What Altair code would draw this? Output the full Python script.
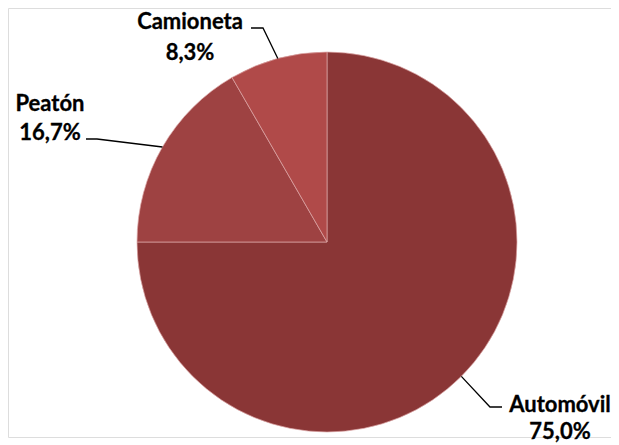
import math
import altair as alt
import pandas as pd

# ---- data ----
categories = ["Automóvil", "Peatón", "Camioneta"]
counts = [9, 2, 1]
colors = ["#8A3636", "#9E4242", "#B04A49"]

# ---- layout (page pixels) ----
W, H = 603, 429
CX, CY, R = 327, 242, 190
label_pos = {  # x centre, baseline of name line, baseline of percentage line
    "Automóvil": (560, 412, 439),
    "Peatón": (50, 111, 140),
    "Camioneta": (190, 29, 60),
}
leader_pts = {  # elbow, end
    "Automóvil": [(490, 407), (502, 407)],
    "Peatón": [(97, 139), (86, 139)],
    "Camioneta": [(263, 28), (251, 28)],
}

total = sum(counts)
pcts = [c / total * 100 for c in counts]
pct_txt = [f"{p:.1f}".replace(".", ",") + "%" for p in pcts]

pie_df = pd.DataFrame({"cat": categories, "val": counts, "idx": range(len(categories))})

# labels
lab_rows = []
for cat, p in zip(categories, pct_txt):
    x, b1, b2 = label_pos[cat]
    lab_rows.append({"x": x, "y": b1, "t": cat})
    lab_rows.append({"x": x, "y": b2, "t": p})
lab_df = pd.DataFrame(lab_rows)

# leader lines start on slice mid-angle
line_rows = []
cum = 0
for cat, c in zip(categories, counts):
    mid = (cum + c / 2) / total * 2 * math.pi
    cum += c
    sx = CX + R * math.sin(mid)
    sy = CY - R * math.cos(mid)
    pts = [(sx, sy)] + leader_pts[cat]
    for i, (px, py) in enumerate(pts):
        line_rows.append({"g": cat, "o": i, "x": px, "y": py})
line_df = pd.DataFrame(line_rows)

xs = alt.Scale(domain=[8, 8 + W])
ys = alt.Scale(domain=[8, 8 + H], reverse=True)

pie = alt.Chart(pie_df).mark_arc(stroke="#DDA8A8", strokeWidth=0.7).encode(
    theta=alt.Theta("val:Q", stack=True),
    order=alt.Order("idx:Q"),
    color=alt.Color("cat:N", scale=alt.Scale(domain=categories, range=colors), legend=None),
    x=alt.value(CX - 8),
    y=alt.value(CY - 8),
    radius=alt.value(R),
)

lines = alt.Chart(line_df).mark_line(color="black", strokeWidth=1.3).encode(
    x=alt.X("x:Q", scale=xs, axis=None),
    y=alt.Y("y:Q", scale=ys, axis=None),
    detail="g:N",
    order="o:Q",
)

texts = alt.Chart(lab_df).mark_text(
    font="Lato", fontWeight="bold", fontSize=22, color="black",
    stroke="black", strokeWidth=0.3,
    align="center", baseline="alphabetic",
).encode(
    x=alt.X("x:Q", scale=xs, axis=None),
    y=alt.Y("y:Q", scale=ys, axis=None),
    text="t:N",
)

chart = alt.layer(pie, lines, texts).properties(
    width=W, height=H, padding=0
).configure_view(stroke=None).configure(background="white")

chart.save("out.html", embed_options={"renderer": "svg", "actions": False})
